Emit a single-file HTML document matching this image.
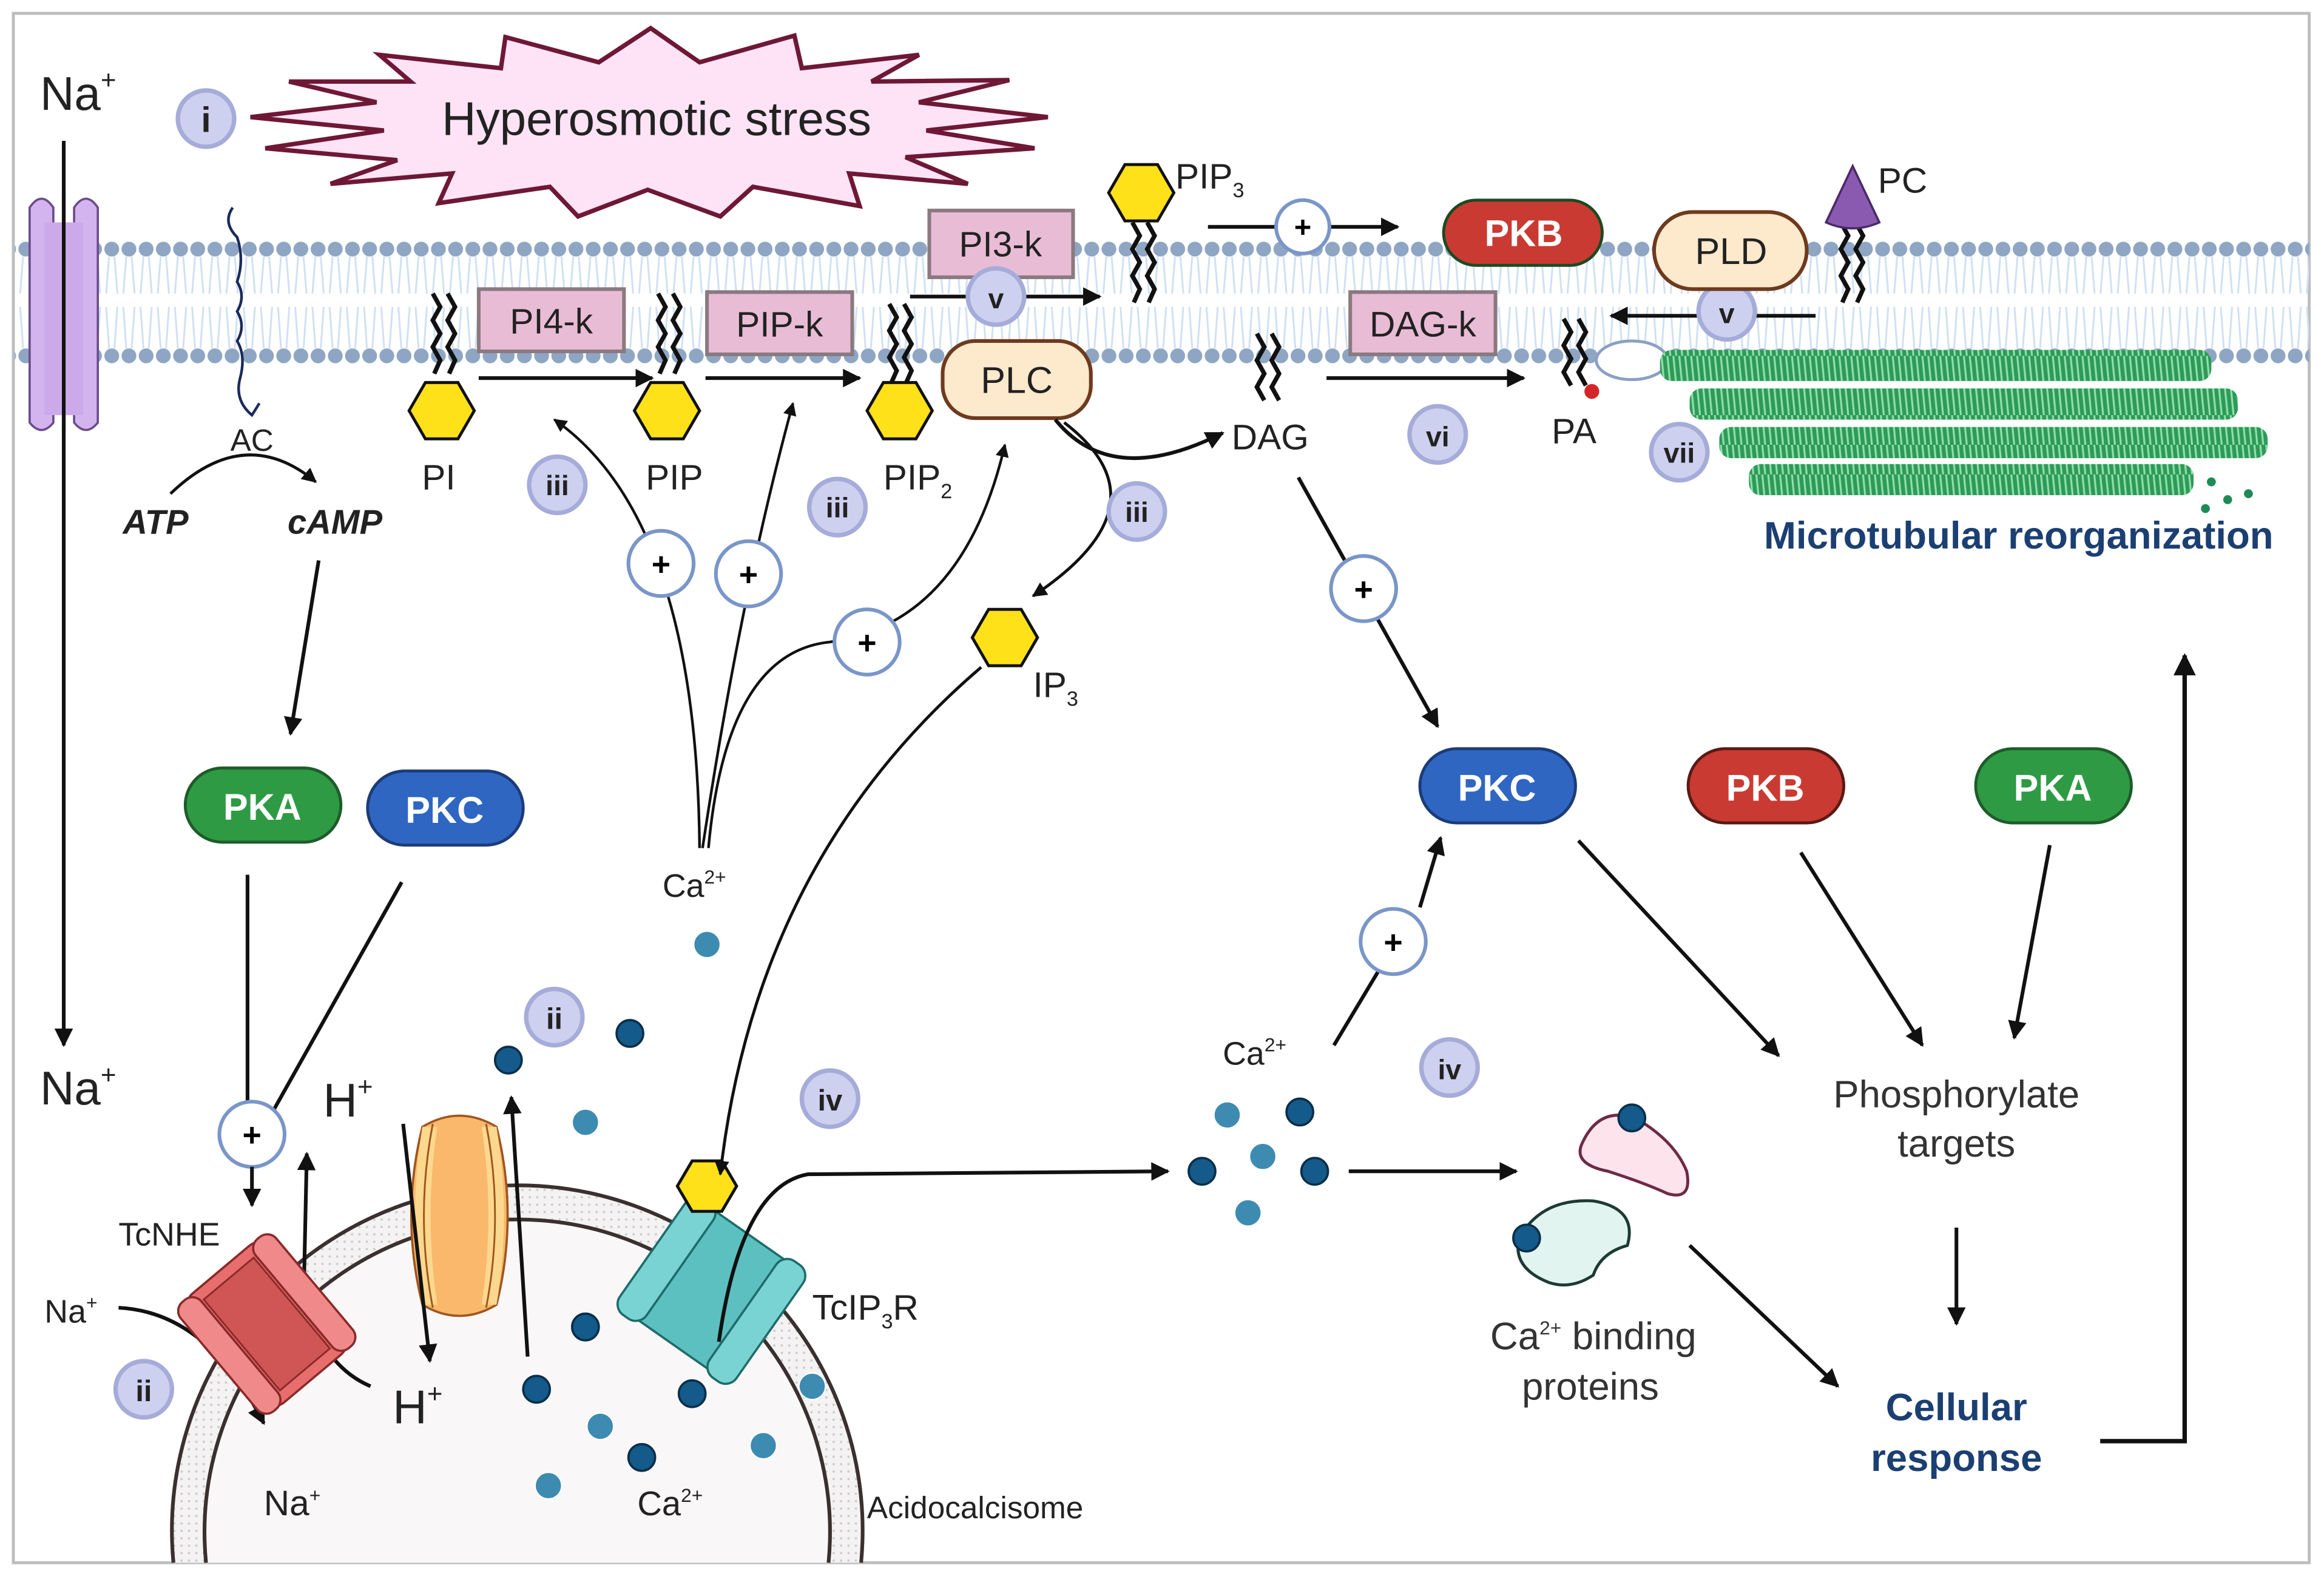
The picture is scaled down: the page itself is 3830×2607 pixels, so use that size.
<!DOCTYPE html>
<html><head><meta charset="utf-8"><style>
html,body{margin:0;padding:0;background:#fff;width:3830px;height:2607px;overflow:hidden}
svg{display:block}
text{font-family:"Liberation Sans",sans-serif}
</style></head><body>
<svg width="3830" height="2607" viewBox="0 0 1568 1067" preserveAspectRatio="none" xmlns="http://www.w3.org/2000/svg">
<defs>
<marker id="ah" viewBox="0 0 10 10" refX="9" refY="5" markerWidth="5" markerHeight="5" orient="auto-start-reverse"><path d="M0,0 L10,5 L0,10 z" fill="#111"/></marker>
<pattern id="lip" x="0" y="155" width="11.6" height="95" patternUnits="userSpaceOnUse">
<line x1="4" y1="18" x2="2" y2="43" stroke="#cfe0f3" stroke-width="1.2"/>
<line x1="7.6" y1="18" x2="9.6" y2="43" stroke="#cfe0f3" stroke-width="1.2"/>
<line x1="2" y1="52" x2="4" y2="80" stroke="#cfe0f3" stroke-width="1.2"/>
<line x1="9.6" y1="52" x2="7.6" y2="80" stroke="#cfe0f3" stroke-width="1.2"/>
<circle cx="5.8" cy="13" r="5" fill="#8ea6c4"/>
<circle cx="5.8" cy="85" r="5" fill="#8ea6c4"/>
</pattern>
<pattern id="mt" width="4" height="20" patternUnits="userSpaceOnUse">
<rect width="4" height="20" fill="#2e9a5a"/>
<line x1="1" y1="0" x2="3" y2="20" stroke="#8fe0a8" stroke-width="1.3"/>
</pattern>
<pattern id="ring" width="5" height="5" patternUnits="userSpaceOnUse"><rect width="5" height="5" fill="#f4f2f2"/><circle cx="2.5" cy="2.5" r="0.8" fill="#ccc"/></pattern>
</defs>
<rect x="0" y="0" width="1568" height="1067" fill="#fff"/>
<rect x="9" y="9" width="1549" height="1045" fill="#fff" stroke="#bdbdbd" stroke-width="2"/>
<rect x="10" y="155" width="1548" height="95" fill="url(#lip)"/>
<path d="M117,1054 A233,233 0 1,1 581,1054 Z" fill="url(#ring)"/>
<path d="M117,1054 A233,233 0 1,1 581,1054" fill="none" stroke="#3a3030" stroke-width="2.5"/>
<path d="M139,1054 A211,211 0 1,1 559,1054 Z" fill="#f9f7f7"/>
<path d="M139,1054 A211,211 0 1,1 559,1054" fill="none" stroke="#3a3030" stroke-width="2.5"/>
<polygon points="439,19 472,42 536,24 541,46 620,37 588,55 681,54 620,69 707,79 625,88 698,100 611,106 653,124 573,117 580,139 508,126 486,146 437,128 390,146 371,126 296,137 305,117 223,124 268,108 179,100 259,88 169,79 254,69 195,55 277,55 256,37 338,46 341,25 404,42" fill="#fde3f5" stroke="#6e1836" stroke-width="3"/>
<text x="443" y="91" font-size="32" text-anchor="middle" fill="#222">Hyperosmotic stress</text>
<text x="27" y="74" font-size="32" fill="#222">Na<tspan font-size="18" dy="-14">+</tspan></text>
<line x1="43" y1="95" x2="43" y2="705" stroke="#111" stroke-width="2.5" marker-end="url(#ah)"/>
<text x="27" y="745" font-size="32" fill="#222">Na<tspan font-size="18" dy="-14">+</tspan></text>
<path d="M20,140 Q28,128 36,140 L36,285 Q28,295 20,285 Z" fill="#d4b4ee" stroke="#6a4c8a" stroke-width="1.5"/>
<path d="M50,140 Q58,128 66,140 L66,285 Q58,295 50,285 Z" fill="#d4b4ee" stroke="#6a4c8a" stroke-width="1.5"/>
<rect x="30" y="150" width="26" height="130" fill="#ccaaea"/>
<line x1="43" y1="130" x2="43" y2="290" stroke="#111" stroke-width="2.5"/>
<g><circle cx="139" cy="80" r="19" fill="#cdd0ee" stroke="#a5acd9" stroke-width="3"/><text x="139" y="89" font-size="24" font-weight="bold" text-anchor="middle" fill="#222">i</text></g>
<path d="M157,140 Q150,150 160,160 Q165,175 160,190 Q166,200 160,210 Q166,220 160,230 Q166,240 162,255 Q158,270 170,280 L175,272" fill="none" stroke="#1b2a5a" stroke-width="1.8"/>
<text x="170" y="304" font-size="21" text-anchor="middle" fill="#222">AC</text>
<text x="105" y="360" font-size="23" font-weight="bold" font-style="italic" text-anchor="middle" fill="#222">ATP</text>
<text x="226" y="360" font-size="23" font-weight="bold" font-style="italic" text-anchor="middle" fill="#222">cAMP</text>
<path d="M115,333 Q165,285 213,325" fill="none" stroke="#111" stroke-width="2" marker-end="url(#ah)"/>
<line x1="215" y1="378" x2="196" y2="495" stroke="#111" stroke-width="2.5" marker-end="url(#ah)"/>
<rect x="125" y="518" width="105" height="50" rx="25" fill="#2f9a44" stroke="#1d5c2a" stroke-width="2"/>
<text x="177" y="553" font-size="25" font-weight="bold" text-anchor="middle" fill="#fff">PKA</text>
<rect x="248" y="520" width="105" height="50" rx="25" fill="#2f66c2" stroke="#1b3c78" stroke-width="2"/>
<text x="300" y="555" font-size="25" font-weight="bold" text-anchor="middle" fill="#fff">PKC</text>
<line x1="167" y1="590" x2="167" y2="743" stroke="#111" stroke-width="2.5"/>
<line x1="271" y1="595" x2="185" y2="748" stroke="#111" stroke-width="2.5"/>
<circle cx="170" cy="765" r="22" fill="#fff" stroke="#7a96c8" stroke-width="2.5"/><text x="170" y="773" font-size="22" font-weight="bold" text-anchor="middle">+</text>
<line x1="170" y1="787" x2="170" y2="813" stroke="#111" stroke-width="2.5" marker-end="url(#ah)"/>
<text x="80" y="840" font-size="22" fill="#222">TcNHE</text>
<path d="M80,882 Q140,885 178,960" fill="none" stroke="#111" stroke-width="2.5" marker-end="url(#ah)"/>
<path d="M250,935 Q215,920 205,870 L207,778" fill="none" stroke="#111" stroke-width="2.5" marker-end="url(#ah)"/>
<g transform="translate(180,893) rotate(-40)">
<rect x="-35" y="-48" width="70" height="96" rx="10" fill="#e86d6d" stroke="#8a2a2a" stroke-width="1.5"/>
<rect x="-42" y="-48" width="18" height="96" rx="8" fill="#f08a8a" stroke="#8a2a2a" stroke-width="1.5"/>
<rect x="24" y="-48" width="18" height="96" rx="8" fill="#f08a8a" stroke="#8a2a2a" stroke-width="1.5"/>
<rect x="-22" y="-40" width="44" height="80" fill="#d05555" stroke="#8a2a2a" stroke-width="1.2"/>
</g>
<text x="30" y="892" font-size="22" fill="#222">Na<tspan font-size="13" dy="-9">+</tspan></text>
<text x="178" y="1022" font-size="24" fill="#222">Na<tspan font-size="13" dy="-9">+</tspan></text>
<g><circle cx="97" cy="937" r="19" fill="#cdd0ee" stroke="#a5acd9" stroke-width="3"/><text x="97" y="945" font-size="20" font-weight="bold" text-anchor="middle" fill="#222">ii</text></g>
<text x="265" y="960" font-size="32" fill="#222">H<tspan font-size="18" dy="-14">+</tspan></text>
<text x="218" y="753" font-size="32" fill="#222">H<tspan font-size="18" dy="-14">+</tspan></text>
<path d="M285,760 Q310,745 335,760 Q350,820 335,880 Q310,895 285,880 Q270,820 285,760 Z" fill="#f9b86c" stroke="#a0551e" stroke-width="1.5"/>
<path d="M285,760 Q275,820 285,880 L295,880 Q286,820 295,760 Z M325,760 Q334,820 325,880 L335,880 Q345,820 335,760 Z" fill="#fcd88e"/>
<path d="M292,758 Q280,820 292,882 M328,758 Q340,820 328,882" fill="none" stroke="#a0551e" stroke-width="1.2"/>
<line x1="272" y1="758" x2="290" y2="918" stroke="#111" stroke-width="2.5" marker-end="url(#ah)"/>
<line x1="356" y1="915" x2="345" y2="740" stroke="#111" stroke-width="2.5" marker-end="url(#ah)"/>
<g fill="#3d8bb0" stroke="#fff" stroke-width="1">
<circle cx="477" cy="637" r="9"/><circle cx="395" cy="757" r="9"/><circle cx="405" cy="962" r="9"/><circle cx="370" cy="1002" r="9"/><circle cx="515" cy="975" r="9"/><circle cx="548" cy="935" r="9"/>
<circle cx="828" cy="752" r="9"/><circle cx="852" cy="780" r="9"/><circle cx="842" cy="818" r="9"/>
</g>
<g fill="#145a8a" stroke="#0a2f4a" stroke-width="1.5">
<circle cx="343" cy="715" r="9"/><circle cx="425" cy="697" r="9"/><circle cx="395" cy="895" r="9"/><circle cx="362" cy="937" r="9"/><circle cx="433" cy="983" r="9"/><circle cx="467" cy="940" r="9"/>
<circle cx="877" cy="750" r="9"/><circle cx="811" cy="790" r="9"/><circle cx="887" cy="790" r="9"/>
</g>
<g><circle cx="374" cy="686" r="19" fill="#cdd0ee" stroke="#a5acd9" stroke-width="3"/><text x="374" y="694" font-size="20" font-weight="bold" text-anchor="middle" fill="#222">ii</text></g>
<text x="430" y="1022" font-size="23" fill="#222">Ca<tspan font-size="13" dy="-9">2+</tspan></text>
<text x="585" y="1024" font-size="21" fill="#222">Acidocalcisome</text>
<g transform="translate(480,870) rotate(35)">
<rect x="-42" y="-45" width="84" height="90" rx="10" fill="#5cc0c0" stroke="#1f6b6b" stroke-width="1.5"/>
<rect x="-48" y="-48" width="22" height="96" rx="9" fill="#7ad3d3" stroke="#1f6b6b" stroke-width="1.5"/>
<rect x="26" y="-48" width="22" height="96" rx="9" fill="#7ad3d3" stroke="#1f6b6b" stroke-width="1.5"/>
</g>
<polygon points="457,800 467,783 487,783 497,800 487,817 467,817" fill="#ffe11a" stroke="#111" stroke-width="2"/>
<path d="M485,905 Q500,800 545,792 L788,790" fill="none" stroke="#111" stroke-width="2.5" marker-end="url(#ah)"/>
<text x="548" y="890" font-size="24" fill="#222">TcIP<tspan font-size="14" dy="6">3</tspan><tspan dy="-6">R</tspan></text>
<g><circle cx="560" cy="741" r="19" fill="#cdd0ee" stroke="#a5acd9" stroke-width="3"/><text x="560" y="749" font-size="20" font-weight="bold" text-anchor="middle" fill="#222">iv</text></g>
<path d="M662,450 Q510,580 486,792" fill="none" stroke="#111" stroke-width="2" marker-end="url(#ah)"/>
<text x="447" y="605" font-size="22" fill="#222">Ca<tspan font-size="13" dy="-9">2+</tspan></text>
<path d="M472,572 Q470,350 374,283" fill="none" stroke="#111" stroke-width="1.8" marker-end="url(#ah)"/>
<path d="M474,572 Q500,400 535,272" fill="none" stroke="#111" stroke-width="1.8" marker-end="url(#ah)"/>
<path d="M478,572 Q490,440 560,433 Q650,420 678,300" fill="none" stroke="#111" stroke-width="1.8" marker-end="url(#ah)"/>
<g fill="#fff" stroke="#7a96c8" stroke-width="2.5"><circle cx="446" cy="380" r="22"/><circle cx="505" cy="387" r="22"/><circle cx="585" cy="433" r="22"/></g>
<g font-size="22" font-weight="bold" text-anchor="middle"><text x="446" y="388">+</text><text x="505" y="395">+</text><text x="585" y="441">+</text></g>
<g fill="none" stroke="#111" stroke-width="3">
<path d="M292,198 l5,9 l-5,9 l5,9 l-5,9 l5,9 l-4,9"/><path d="M302,198 l5,9 l-5,9 l5,9 l-5,9 l5,9 l-4,9"/>
<path d="M444,198 l5,9 l-5,9 l5,9 l-5,9 l5,9 l-4,9"/><path d="M454,198 l5,9 l-5,9 l5,9 l-5,9 l5,9 l-4,9"/>
<path d="M600,205 l5,9 l-5,9 l5,9 l-5,9 l5,9 l-4,9"/><path d="M610,205 l5,9 l-5,9 l5,9 l-5,9 l5,9 l-4,9"/>
<path d="M764,150 l5,9 l-5,9 l5,9 l-5,9 l5,9 l-4,9"/><path d="M774,150 l5,9 l-5,9 l5,9 l-5,9 l5,9 l-4,9"/>
<path d="M848,225 l5,9 l-5,9 l5,9 l-5,9 l5,9"/><path d="M858,225 l5,9 l-5,9 l5,9 l-5,9 l5,9"/>
<path d="M1055,215 l5,9 l-5,9 l5,9 l-5,9 l5,9"/><path d="M1065,215 l5,9 l-5,9 l5,9 l-5,9 l5,9"/>
<path d="M1242,150 l5,9 l-5,9 l5,9 l-5,9 l5,9 l-4,9"/><path d="M1252,150 l5,9 l-5,9 l5,9 l-5,9 l5,9 l-4,9"/>
</g>
<g fill="#ffe11a" stroke="#111" stroke-width="2">
<polygon points="276,277 287,258 309,258 320,277 309,296 287,296"/>
<polygon points="428,277 439,258 461,258 472,277 461,296 439,296"/>
<polygon points="585,277 596,258 618,258 629,277 618,296 596,296"/>
<polygon points="748,130 759,111 781,111 792,130 781,149 759,149"/>
<polygon points="656,430 667,411 689,411 700,430 689,449 667,449"/>
</g>
<text x="296" y="330" font-size="24" text-anchor="middle" fill="#222">PI</text>
<text x="455" y="330" font-size="24" text-anchor="middle" fill="#222">PIP</text>
<text x="596" y="330" font-size="24" fill="#222">PIP<tspan font-size="14" dy="6">2</tspan></text>
<text x="793" y="127" font-size="24" fill="#222">PIP<tspan font-size="14" dy="6">3</tspan></text>
<text x="697" y="470" font-size="24" fill="#222">IP<tspan font-size="14" dy="6">3</tspan></text>
<g fill="#e9bcd6" stroke="#8a7a80" stroke-width="2.5">
<rect x="323" y="195" width="98" height="42"/><rect x="477" y="197" width="98" height="42"/><rect x="627" y="142" width="97" height="45"/><rect x="911" y="197" width="98" height="42"/>
</g>
<g font-size="24" text-anchor="middle" fill="#222"><text x="372" y="225">PI4-k</text><text x="526" y="227">PIP-k</text><text x="675" y="173">PI3-k</text><text x="960" y="227">DAG-k</text></g>
<g stroke="#111" stroke-width="2.5" marker-end="url(#ah)">
<line x1="323" y1="255" x2="440" y2="255"/><line x1="476" y1="255" x2="580" y2="255"/><line x1="614" y1="200" x2="742" y2="200"/>
<line x1="895" y1="255" x2="1028" y2="255"/><line x1="1225" y1="213" x2="1087" y2="213"/>
<line x1="815" y1="153" x2="943" y2="153"/>
</g>
<circle cx="879" cy="153" r="18" fill="#fff" stroke="#7a96c8" stroke-width="2.5"/><text x="879" y="160" font-size="20" font-weight="bold" text-anchor="middle">+</text>
<rect x="636" y="230" width="100" height="52" rx="22" fill="#fde9cc" stroke="#6e3a1e" stroke-width="2.5"/>
<text x="686" y="265" font-size="25" text-anchor="middle" fill="#222">PLC</text>
<path d="M712,283 Q750,330 825,292" fill="none" stroke="#111" stroke-width="2.5" marker-end="url(#ah)"/>
<path d="M718,285 Q790,340 697,402" fill="none" stroke="#111" stroke-width="2" marker-end="url(#ah)"/>
<text x="857" y="303" font-size="24" text-anchor="middle" fill="#222">DAG</text>
<g fill="#cdd0ee" stroke="#a5acd9" stroke-width="3">
<circle cx="376" cy="327" r="19"/><circle cx="565" cy="342" r="19"/><circle cx="767" cy="345" r="19"/><circle cx="672" cy="200" r="19"/><circle cx="970" cy="293" r="19"/><circle cx="1165" cy="210" r="19"/><circle cx="1133" cy="305" r="19"/><circle cx="978" cy="720" r="19"/>
</g>
<g font-size="19" font-weight="bold" text-anchor="middle" fill="#222">
<text x="376" y="334">iii</text><text x="565" y="349">iii</text><text x="767" y="352">iii</text><text x="672" y="208">v</text><text x="970" y="301">vi</text><text x="1165" y="218">v</text><text x="1133" y="312">vii</text><text x="978" y="728">iv</text>
</g>
<rect x="974" y="135" width="107" height="44" rx="22" fill="#c93a32" stroke="#1c4a22" stroke-width="2"/>
<text x="1028" y="166" font-size="25" font-weight="bold" text-anchor="middle" fill="#fff">PKB</text>
<rect x="1116" y="143" width="103" height="52" rx="26" fill="#fde9cc" stroke="#6e3a1e" stroke-width="2.5"/>
<text x="1168" y="178" font-size="25" text-anchor="middle" fill="#222">PLD</text>
<path d="M1232,150 L1250,112 L1268,150 Q1250,158 1232,150 Z" fill="#8a5ab0" stroke="#4a2a6a" stroke-width="1.5"/>
<text x="1267" y="130" font-size="24" fill="#222">PC</text>
<ellipse cx="1101" cy="243" rx="24" ry="13" fill="#fff" stroke="#8aa0c4" stroke-width="2"/>
<circle cx="1074" cy="264" r="5" fill="#d4262a"/>
<text x="1062" y="299" font-size="24" text-anchor="middle" fill="#222">PA</text>
<rect x="1120" y="236" width="372" height="21" rx="8" fill="url(#mt)"/>
<rect x="1140" y="262" width="370" height="21" rx="8" fill="url(#mt)"/>
<rect x="1160" y="288" width="370" height="21" rx="8" fill="url(#mt)"/>
<rect x="1180" y="313" width="300" height="21" rx="8" fill="url(#mt)"/>
<g fill="#1e8a55"><circle cx="1492" cy="325" r="3"/><circle cx="1503" cy="337" r="3"/><circle cx="1517" cy="333" r="3"/><circle cx="1488" cy="343" r="3"/></g>
<text x="1362" y="370" font-size="26" font-weight="bold" text-anchor="middle" fill="#1b3f72">Microtubular reorganization</text>
<line x1="876" y1="322" x2="970" y2="490" stroke="#111" stroke-width="2.5" marker-end="url(#ah)"/>
<circle cx="920" cy="397" r="22" fill="#fff" stroke="#7a96c8" stroke-width="2.5"/><text x="920" y="405" font-size="22" font-weight="bold" text-anchor="middle">+</text>
<rect x="958" y="505" width="105" height="50" rx="25" fill="#2f66c2" stroke="#1b3c78" stroke-width="2"/>
<text x="1010" y="540" font-size="25" font-weight="bold" text-anchor="middle" fill="#fff">PKC</text>
<rect x="1139" y="505" width="105" height="50" rx="25" fill="#c93a32" stroke="#5a1a14" stroke-width="2"/>
<text x="1191" y="540" font-size="25" font-weight="bold" text-anchor="middle" fill="#fff">PKB</text>
<rect x="1333" y="505" width="105" height="50" rx="25" fill="#2f9a44" stroke="#1d5c2a" stroke-width="2"/>
<text x="1385" y="540" font-size="25" font-weight="bold" text-anchor="middle" fill="#fff">PKA</text>
<g stroke="#111" stroke-width="2.5" marker-end="url(#ah)">
<line x1="1065" y1="567" x2="1200" y2="712"/><line x1="1215" y1="575" x2="1297" y2="705"/><line x1="1383" y1="570" x2="1359" y2="700"/>
<line x1="1320" y1="828" x2="1320" y2="893"/>
<line x1="1140" y1="840" x2="1240" y2="935"/>
<line x1="910" y1="790" x2="1023" y2="790"/>
<line x1="958" y1="612" x2="972" y2="565"/>
</g>
<line x1="900" y1="705" x2="930" y2="655" stroke="#111" stroke-width="2.5"/>
<circle cx="940" cy="635" r="22" fill="#fff" stroke="#7a96c8" stroke-width="2.5"/><text x="940" y="643" font-size="22" font-weight="bold" text-anchor="middle">+</text>
<text x="825" y="718" font-size="22" fill="#222">Ca<tspan font-size="13" dy="-9">2+</tspan></text>
<text x="1320" y="747" font-size="26" text-anchor="middle" fill="#333">Phosphorylate</text>
<text x="1320" y="780" font-size="26" text-anchor="middle" fill="#333">targets</text>
<text x="1320" y="958" font-size="26" font-weight="bold" text-anchor="middle" fill="#1b3f72">Cellular</text>
<text x="1320" y="992" font-size="26" font-weight="bold" text-anchor="middle" fill="#1b3f72">response</text>
<path d="M1417,972 L1474,972 L1474,442" fill="none" stroke="#111" stroke-width="3" marker-end="url(#ah)"/>
<path d="M1068,770 Q1080,745 1105,755 Q1130,770 1138,790 Q1142,810 1125,805 Q1110,798 1085,790 Q1060,785 1068,770 Z" fill="#fde4ec" stroke="#6e2a44" stroke-width="2"/>
<path d="M1025,835 Q1040,808 1075,810 Q1105,815 1098,840 Q1080,845 1075,860 Q1060,870 1045,865 Q1020,855 1025,835 Z" fill="#e1f4f0" stroke="#1e3a34" stroke-width="2"/>
<circle cx="1101" cy="754" r="9" fill="#145a8a" stroke="#0a2f4a" stroke-width="1.5"/>
<circle cx="1030" cy="835" r="9" fill="#145a8a" stroke="#0a2f4a" stroke-width="1.5"/>
<text x="1075" y="910" font-size="26" text-anchor="middle" fill="#333">Ca<tspan font-size="13" dy="-10">2+</tspan><tspan dy="10"> binding</tspan></text>
<text x="1073" y="944" font-size="26" text-anchor="middle" fill="#333">proteins</text>
</svg>
</body></html>
